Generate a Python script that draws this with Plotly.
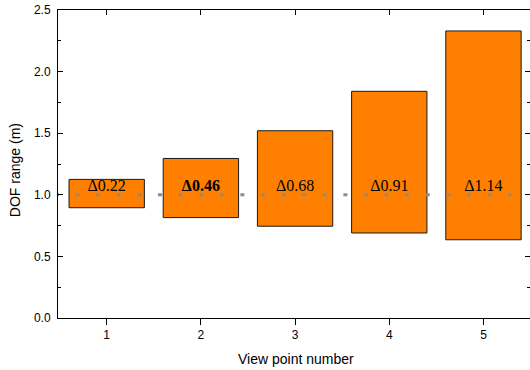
import plotly.graph_objects as go

# Data
views = [1, 2, 3, 4, 5]
dof_bottom = [0.895, 0.815, 0.745, 0.69, 0.635]
dof_top = [1.125, 1.295, 1.52, 1.84, 2.33]
delta_labels = ["Δ0.22", "<b>Δ0.46</b>", "Δ0.68", "Δ0.91", "Δ1.14"]
label_y = [1.067] * 5
ref_y = 1.0
ref_x = [0.451, 5.30]
y_ticks = [0.0, 0.5, 1.0, 1.5, 2.0, 2.5]

heights = [t - b for t, b in zip(dof_top, dof_bottom)]

x_range = [0.483, 5.494]
y_range = [0, 2.5]

fig = go.Figure()
fig.add_trace(go.Bar(
    x=views, y=heights, base=dof_bottom, width=0.8,
    marker=dict(color="#FF8000", line=dict(color="#1a1a1a", width=1)),
    showlegend=False, hoverinfo="skip",
))
fig.add_trace(go.Scatter(
    x=ref_x, y=[ref_y, ref_y], mode="lines",
    line=dict(color="#8c8c8c", width=3, dash="4px,16.6px"),
    showlegend=False, hoverinfo="skip",
))
fig.add_trace(go.Scatter(
    x=views, y=label_y, mode="text", text=delta_labels,
    textposition="middle center",
    textfont=dict(family="Liberation Serif", size=16, color="black"),
    showlegend=False, hoverinfo="skip", cliponaxis=False,
))
# dummy trace for the mirrored axes
fig.add_trace(go.Scatter(x=[None], y=[None], xaxis="x2", yaxis="y2",
                         showlegend=False, hoverinfo="skip"))

axis_font = dict(family="Liberation Sans", size=12, color="black")

fig.update_layout(
    width=530, height=370,
    margin=dict(l=58, r=0, t=10, b=52),
    paper_bgcolor="white", plot_bgcolor="white",
    font=axis_font,
    bargap=0.2,
    xaxis=dict(
        range=x_range, tickvals=views, ticktext=[str(v) for v in views],
        ticks="outside", ticklen=6, tickwidth=1, tickcolor="black",
        showline=True, linecolor="black", linewidth=1, mirror=True,
        showgrid=False, zeroline=False, tickfont=axis_font,
    ),
    xaxis2=dict(
        range=x_range, overlaying="x", side="top", anchor="y",
        tickvals=views, ticks="inside", ticklen=5, tickwidth=1, tickcolor="black",
        showticklabels=False, showline=False, showgrid=False, zeroline=False,
    ),
    yaxis=dict(
        range=y_range, tickvals=y_ticks, tickformat=".1f",
        ticks="inside", ticklen=5, tickwidth=1, tickcolor="black",
        minor=dict(dtick=0.25, ticks="inside", ticklen=3, tickcolor="black", showgrid=False),
        showline=True, linecolor="black", linewidth=1, mirror=False,
        showgrid=False, zeroline=False, tickfont=axis_font,
        ticklabelstandoff=4,
    ),
    yaxis2=dict(
        range=y_range, overlaying="y", side="right", anchor="x",
        tickvals=y_ticks, ticks="inside", ticklen=5, tickwidth=1, tickcolor="black",
        minor=dict(dtick=0.25, ticks="inside", ticklen=3, tickcolor="black", showgrid=False),
        showticklabels=False, showline=False, showgrid=False, zeroline=False,
    ),
    annotations=[
        dict(text="DOF range (m)", xref="paper", yref="paper", x=-0.0911, y=0.48,
             textangle=-90, showarrow=False, xanchor="center", yanchor="middle",
             font=dict(family="Liberation Sans", size=14, color="black")),
        dict(text="View point number", xref="paper", yref="paper", x=0.504, y=-0.133,
             showarrow=False, xanchor="center", yanchor="middle",
             font=dict(family="Liberation Sans", size=14, color="black")),
    ],
)

fig.write_html("out.html", config={"displayModeBar": False})

with open("out.html", "r", encoding="utf-8") as f:
    html = f.read()
html = html.replace("<head>", "<head><style>html,body{margin:0;padding:0;overflow:hidden;}</style>", 1)
with open("out.html", "w", encoding="utf-8") as f:
    f.write(html)
